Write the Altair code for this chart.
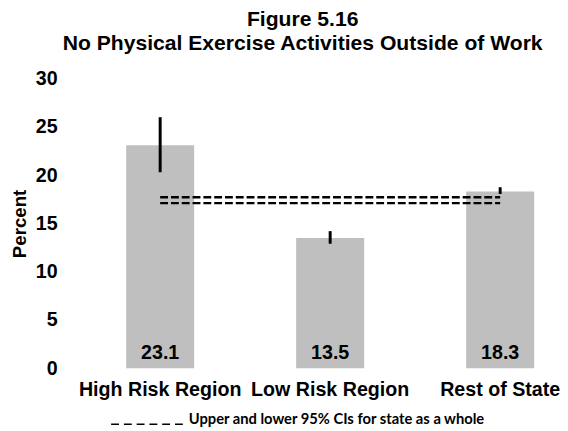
import altair as alt
import pandas as pd

categories = ["High Risk Region", "Low Risk Region", "Rest of State"]
values = [23.1, 13.5, 18.3]
value_labels = ["23.1", "13.5", "18.3"]
ci_low = [20.3, 12.9, 18.05]
ci_high = [26.0, 14.2, 18.75]
state_ci = [17.1, 17.7]
y_ticks = [0, 5, 10, 15, 20, 25, 30]
legend_label = ["Upper and lower 95% CIs for state as a whole"]
title_lines = ["Figure 5.16", "No Physical Exercise Activities Outside of Work"]

FONT = "Liberation Sans"

df = pd.DataFrame({"cat": categories, "val": values, "lab": value_labels,
                   "lo": ci_low, "hi": ci_high})
state_df = pd.DataFrame({"y": state_ci,
                         "start": [categories[0]] * len(state_ci),
                         "end": [categories[-1]] * len(state_ci)})
leg_df = pd.DataFrame({"t": legend_label})

x_enc = alt.X("cat:N", sort=categories, title=None,
              scale=alt.Scale(paddingInner=0.6, paddingOuter=0.1),
              axis=alt.Axis(labelAngle=0, labelFont=FONT, labelFontSize=20,
                            labelFontWeight="bold", labelColor="black",
                            domain=False, ticks=False, labelPadding=12))
y_enc = alt.Y("val:Q", scale=alt.Scale(domain=[0, 30], nice=False),
              axis=alt.Axis(values=y_ticks, title="Percent", grid=False,
                            domain=False, ticks=False, labelPadding=53,
                            labelFont=FONT, labelFontSize=20,
                            labelFontWeight="bold", labelColor="black",
                            titleFont=FONT, titleFontSize=19,
                            titleFontWeight="bold", titleColor="black",
                            titlePadding=6))

base = alt.Chart(df)
bars = base.mark_bar(color="#BFBFBF").encode(x=x_enc, y=y_enc)
errs = base.mark_rule(color="black", strokeWidth=3).encode(
    x=alt.X("cat:N", sort=categories), y="lo:Q", y2="hi:Q")
texts = base.mark_text(font=FONT, fontSize=20, fontWeight="bold",
                       baseline="alphabetic", dy=-9, color="black").encode(
    x=alt.X("cat:N", sort=categories), y=alt.datum(0), text="lab:N")
dashed = alt.Chart(state_df).mark_rule(color="black", strokeWidth=2.5,
                                        strokeDash=[8, 3]).encode(
    x=alt.X("start:N", sort=categories), x2="end:N", y="y:Q")

leg_line = alt.Chart(leg_df).mark_rule(color="black", strokeWidth=1.5,
                                        strokeDash=[8, 5]).encode(
    x=alt.value(2), x2=alt.value(77), y=alt.value(352))
leg_text = alt.Chart(leg_df).mark_text(font="Lato", fontSize=15,
                                        fontWeight="bold", align="left",
                                        baseline="middle", color="black").encode(
    x=alt.value(81), y=alt.value(347), text="t:N")

chart = alt.layer(bars, errs, dashed, texts, leg_line, leg_text).properties(
    width=450, height=295,
    padding={"left": 2, "top": -3, "right": 0, "bottom": 0},
    title=alt.TitleParams(title_lines, font=FONT, fontSize=21.5,
                          fontWeight="bold", color="black", anchor="middle",
                          frame="group", dx=-28, offset=15,
                          lineHeight=24.5),
).configure_view(stroke=None)

chart.save("out.html", embed_options={"renderer": "svg", "actions": False})
